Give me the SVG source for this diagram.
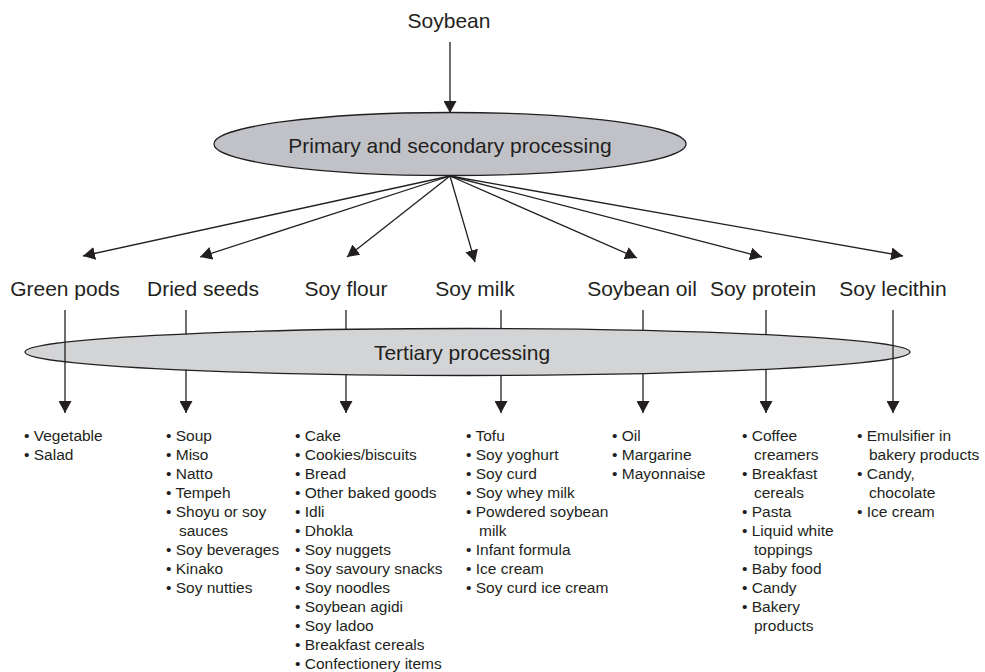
<svg xmlns="http://www.w3.org/2000/svg" width="985" height="672" viewBox="0 0 985 672">
<style>
text{font-family:"Liberation Sans",Arial,sans-serif;fill:#231f20}
.big{font-size:21px}
.lst{font-size:15.5px}
.ln{stroke:#231f20;stroke-width:1.3;fill:none}
.arr{marker-end:url(#ah)}
.ell{stroke:#231f20;stroke-width:1.3}
</style>
<defs>
<marker id="ah" markerUnits="userSpaceOnUse" markerWidth="13" markerHeight="13" refX="12" refY="6.5" orient="auto" viewBox="0 0 13 13">
<path d="M0,0 L12,6.5 L0,13 z" fill="#231f20"/>
</marker>
</defs>
<rect width="985" height="672" fill="#ffffff"/>

<g id="soybean"><text class="big" x="449" y="28" text-anchor="middle">Soybean</text></g>
<g id="primary">
<ellipse class="ell" cx="450" cy="144" rx="236" ry="31.5" fill="#c1c2c7"/>
<text class="big" x="450" y="153" text-anchor="middle">Primary and secondary processing</text>
</g>
<g id="tertiary">
<ellipse class="ell" cx="467.5" cy="352" rx="442.5" ry="23.5" fill="#d3d4d6"/>
<text class="big" x="462" y="360" text-anchor="middle">Tertiary processing</text>
</g>

<g id="green-pods"><text class="big" x="65" y="296" text-anchor="middle">Green pods</text>
<text class="lst" x="24" y="441"><tspan x="24">• Vegetable</tspan><tspan x="24" dy="19">• Salad</tspan></text></g>
<g id="dried-seeds"><text class="big" x="203" y="296" text-anchor="middle">Dried seeds</text>
<text class="lst" x="166" y="441"><tspan x="166">• Soup</tspan><tspan x="166" dy="19">• Miso</tspan><tspan x="166" dy="19">• Natto</tspan><tspan x="166" dy="19">• Tempeh</tspan><tspan x="166" dy="19">• Shoyu or soy</tspan><tspan x="179" dy="19">sauces</tspan><tspan x="166" dy="19">• Soy beverages</tspan><tspan x="166" dy="19">• Kinako</tspan><tspan x="166" dy="19">• Soy nutties</tspan></text></g>
<g id="soy-flour"><text class="big" x="346" y="296" text-anchor="middle">Soy flour</text>
<text class="lst" x="295" y="441"><tspan x="295">• Cake</tspan><tspan x="295" dy="19">• Cookies/biscuits</tspan><tspan x="295" dy="19">• Bread</tspan><tspan x="295" dy="19">• Other baked goods</tspan><tspan x="295" dy="19">• Idli</tspan><tspan x="295" dy="19">• Dhokla</tspan><tspan x="295" dy="19">• Soy nuggets</tspan><tspan x="295" dy="19">• Soy savoury snacks</tspan><tspan x="295" dy="19">• Soy noodles</tspan><tspan x="295" dy="19">• Soybean agidi</tspan><tspan x="295" dy="19">• Soy ladoo</tspan><tspan x="295" dy="19">• Breakfast cereals</tspan><tspan x="295" dy="19">• Confectionery items</tspan></text></g>
<g id="soy-milk"><text class="big" x="475" y="296" text-anchor="middle">Soy milk</text>
<text class="lst" x="466" y="441"><tspan x="466">• Tofu</tspan><tspan x="466" dy="19">• Soy yoghurt</tspan><tspan x="466" dy="19">• Soy curd</tspan><tspan x="466" dy="19">• Soy whey milk</tspan><tspan x="466" dy="19">• Powdered soybean</tspan><tspan x="479" dy="19">milk</tspan><tspan x="466" dy="19">• Infant formula</tspan><tspan x="466" dy="19">• Ice cream</tspan><tspan x="466" dy="19">• Soy curd ice cream</tspan></text></g>
<g id="soybean-oil"><text class="big" x="642" y="296" text-anchor="middle">Soybean oil</text>
<text class="lst" x="612" y="441"><tspan x="612">• Oil</tspan><tspan x="612" dy="19">• Margarine</tspan><tspan x="612" dy="19">• Mayonnaise</tspan></text></g>
<g id="soy-protein"><text class="big" x="763" y="296" text-anchor="middle">Soy protein</text>
<text class="lst" x="742" y="441"><tspan x="742">• Coffee</tspan><tspan x="754" dy="19">creamers</tspan><tspan x="742" dy="19">• Breakfast</tspan><tspan x="754" dy="19">cereals</tspan><tspan x="742" dy="19">• Pasta</tspan><tspan x="742" dy="19">• Liquid white</tspan><tspan x="754" dy="19">toppings</tspan><tspan x="742" dy="19">• Baby food</tspan><tspan x="742" dy="19">• Candy</tspan><tspan x="742" dy="19">• Bakery</tspan><tspan x="754" dy="19">products</tspan></text></g>
<g id="soy-lecithin"><text class="big" x="893" y="296" text-anchor="middle">Soy lecithin</text>
<text class="lst" x="857" y="441"><tspan x="857">• Emulsifier in</tspan><tspan x="869" dy="19">bakery products</tspan><tspan x="857" dy="19">• Candy,</tspan><tspan x="869" dy="19">chocolate</tspan><tspan x="857" dy="19">• Ice cream</tspan></text></g>

<g id="connectors">
<line class="ln arr" x1="450" y1="42" x2="450" y2="113"/>
<line class="ln arr" x1="450" y1="176" x2="83" y2="256"/>
<line class="ln arr" x1="450" y1="176" x2="200" y2="257"/>
<line class="ln arr" x1="450" y1="176" x2="347" y2="257"/>
<line class="ln arr" x1="450" y1="176" x2="475" y2="262"/>
<line class="ln arr" x1="450" y1="176" x2="637" y2="258"/>
<line class="ln arr" x1="450" y1="176" x2="762" y2="257"/>
<line class="ln arr" x1="450" y1="176" x2="903" y2="256"/>
<line class="ln arr" x1="65" y1="310" x2="65" y2="413"/>
<line class="ln" x1="186" y1="310" x2="186" y2="334.5"/>
<line class="ln arr" x1="186" y1="369.5" x2="186" y2="413"/>
<line class="ln" x1="346" y1="310" x2="346" y2="329.5"/>
<line class="ln arr" x1="346" y1="374.5" x2="346" y2="413"/>
<line class="ln" x1="501" y1="310" x2="501" y2="328.5"/>
<line class="ln arr" x1="501" y1="375.5" x2="501" y2="413"/>
<line class="ln" x1="643" y1="310" x2="643" y2="330.5"/>
<line class="ln arr" x1="643" y1="373.5" x2="643" y2="413"/>
<line class="ln" x1="766" y1="310" x2="766" y2="335"/>
<line class="ln arr" x1="766" y1="369" x2="766" y2="413"/>
<line class="ln arr" x1="893" y1="310" x2="893" y2="413"/>
</g>
</svg>
